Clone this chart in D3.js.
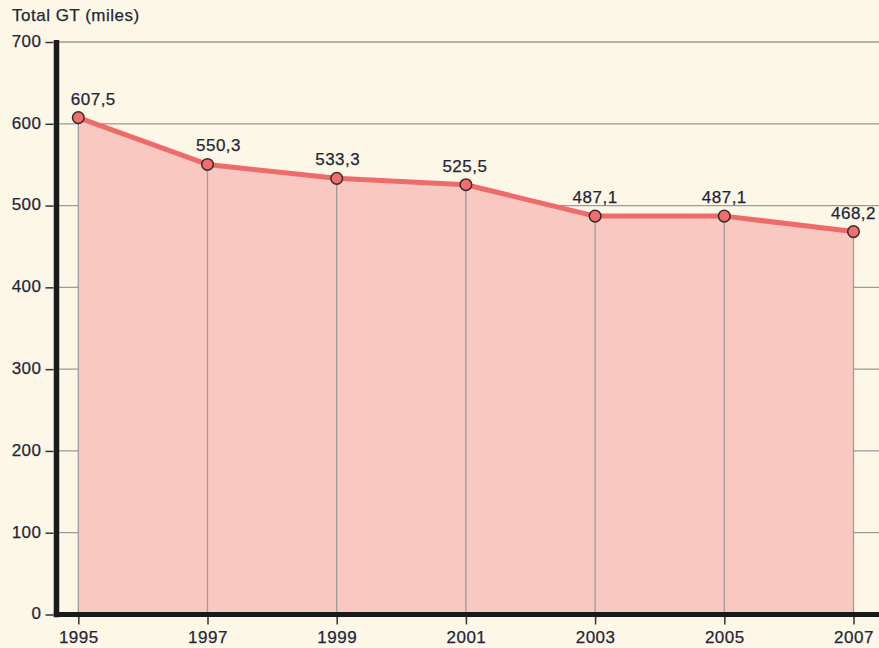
<!DOCTYPE html>
<html>
<head>
<meta charset="utf-8">
<script src="https://cdn.jsdelivr.net/npm/d3@7"></script>
<style>
  html, body { margin: 0; padding: 0; background: #fdf7e7; }
  svg { display: block; }
  text { font-family: "Liberation Sans", Arial, sans-serif; fill: #1e2738; letter-spacing: 0.5px; }
</style>
</head>
<body>
<svg id="chart" width="879" height="648"></svg>
<script>
// Total GT over the years
const years = [1995, 1997, 1999, 2001, 2003, 2005, 2007];
const totals = [607.5, 550.3, 533.3, 525.5, 487.1, 487.1, 468.2];
const valueLabels = ["607,5", "550,3", "533,3", "525,5", "487,1", "487,1", "468,2"];
const yTicks = [0, 100, 200, 300, 400, 500, 600, 700];
const yTitle = "Total GT (miles)";

const data = years.map((y, i) => ({ year: y, value: totals[i], label: valueLabels[i] }));

// the first two labels are nudged right so they clear the falling line
const labelShift = [15, 11, 1, -1, 0, 0, 0];

const W = 879, H = 648;
const svg = d3.select("#chart");

const x = d3.scaleLinear().domain([1995, 2007]).range([78.3, 853.5]);
const y = d3.scaleLinear().domain([0, 700]).range([614.5, 42]);
const axisX = 56.5;

// horizontal gridlines
svg.append("g").selectAll("line").data(yTicks.slice(1)).join("line")
  .attr("x1", axisX).attr("x2", W)
  .attr("y1", d => y(d)).attr("y2", d => y(d))
  .attr("stroke", "#9b9b9b").attr("stroke-width", 1.3);

// filled area under the line
const area = d3.area().x(d => x(d.year)).y0(y(0)).y1(d => y(d.value));
svg.append("path").datum(data).attr("d", area).attr("fill", "#f9c9c1");

// drop lines from each point
svg.append("g").selectAll("line").data(data).join("line")
  .attr("x1", d => x(d.year)).attr("x2", d => x(d.year))
  .attr("y1", d => y(d.value)).attr("y2", y(0))
  .attr("stroke", "#9b9b9b").attr("stroke-width", 1.3);

// line
const line = d3.line().x(d => x(d.year)).y(d => y(d.value));
svg.append("path").datum(data).attr("d", line)
  .attr("fill", "none").attr("stroke", "#ee6b6b").attr("stroke-width", 5)
  .attr("stroke-linejoin", "round").attr("stroke-linecap", "round");

const styleText = sel => sel.attr("font-size", 17).attr("fill", "#1e2738")
  .attr("stroke", "#1e2738").attr("stroke-width", 0.25);

// y axis
const yAxis = d3.axisLeft(y).tickValues(yTicks).tickSize(8).tickPadding(4).tickFormat(d3.format("d"));
const gy = svg.append("g").attr("transform", `translate(${axisX - 3},0)`).call(yAxis);
gy.select(".domain").remove();
gy.selectAll(".tick line").attr("stroke", "#333").attr("stroke-width", 1.5);
gy.selectAll(".tick text").call(styleText).attr("dy", "0.26em");

// x axis
const xAxis = d3.axisBottom(x).tickValues(years).tickSize(10).tickPadding(6).tickFormat(d3.format("d"));
const gx = svg.append("g").attr("transform", `translate(0,${y(0)})`).call(xAxis);
gx.select(".domain").remove();
gx.selectAll(".tick line").attr("stroke", "#333").attr("stroke-width", 1.5);
gx.selectAll(".tick text").call(styleText);

// thick axis lines
svg.append("line").attr("x1", axisX).attr("x2", axisX).attr("y1", 40).attr("y2", y(0) + 2.75)
  .attr("stroke", "#1a1a1a").attr("stroke-width", 5.5);
svg.append("line").attr("x1", axisX - 2.75).attr("x2", W).attr("y1", y(0)).attr("y2", y(0))
  .attr("stroke", "#1a1a1a").attr("stroke-width", 5);

// markers
svg.append("g").selectAll("circle").data(data).join("circle")
  .attr("cx", d => x(d.year)).attr("cy", d => y(d.value)).attr("r", 5.8)
  .attr("fill", "#ef6e6e").attr("stroke", "#3a2a2a").attr("stroke-width", 1.5);

// value labels
svg.append("g").selectAll("text").data(data).join("text")
  .attr("x", (d, i) => x(d.year) + labelShift[i]).attr("y", d => y(d.value) - 13)
  .attr("text-anchor", "middle")
  .call(styleText)
  .text(d => d.label);

// axis title
svg.append("text").attr("x", 12).attr("y", 21).call(styleText).text(yTitle);
</script>
</body>
</html>
